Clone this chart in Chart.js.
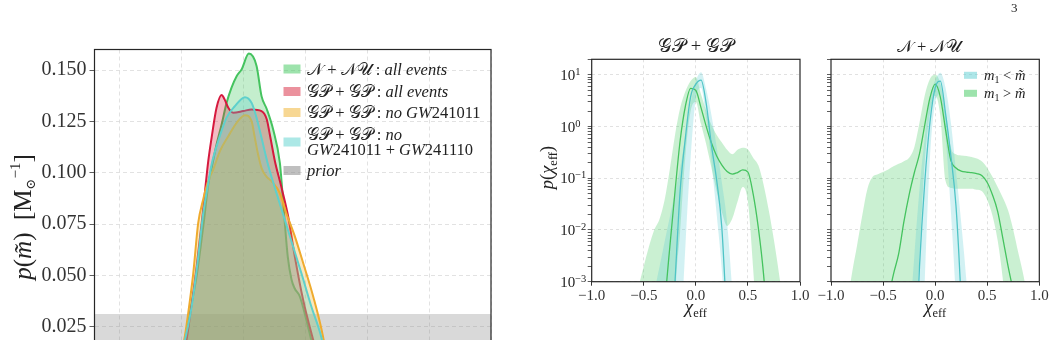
<!DOCTYPE html>
<html>
<head>
<meta charset="utf-8">
<title>m-tilde and chi_eff posteriors</title>
<script src="https://cdn.jsdelivr.net/npm/chart.js@4.4.1/dist/chart.umd.min.js"></script>
<style>
    html, body { margin: 0; padding: 0; background: #fff; width: 1054px; height: 340px; overflow: hidden; }
    .panel { position: absolute; top: 0; }
    #pageNum { position: absolute; left: 1011px; top: 0; font: 13px 'Liberation Serif', serif; color: #222; }
</style>
</head>
<body>
<div class="panel" style="left:0"><canvas id="massChart" width="520" height="470"></canvas></div>
<div class="panel" style="left:520px"><canvas id="gpChart" width="300" height="340"></canvas></div>
<div class="panel" style="left:810px"><canvas id="nuChart" width="244" height="340"></canvas></div>
<div id="pageNum">3</div>
<script>
// ---- left panel: p(m~) ----
const nuAllM = [24.6, 25.3, 25.8, 26.25, 26.8, 27.2, 27.45, 27.85, 28.26, 28.66, 29.06, 29.47, 29.87, 30.46, 31.08, 31.48, 31.9, 32.42, 32.96, 33.15, 33.36, 33.6, 33.9, 34.15, 34.57, 35.1, 35.5, 36.3];
const nuAllP = [0.0, 0.0187, 0.035, 0.05, 0.075, 0.095, 0.1023, 0.1137, 0.1235, 0.134, 0.1414, 0.147, 0.1503, 0.158, 0.152, 0.1373, 0.131, 0.121, 0.1048, 0.0917, 0.0755, 0.059, 0.048, 0.0437, 0.0397, 0.0283, 0.0185, 0.0];
const gpAllM = [24.8, 25.43, 25.7, 26.24, 26.65, 26.97, 27.18, 27.45, 27.85, 28.26, 28.5, 28.8, 29.19, 30.0, 30.68, 31.48, 31.9, 32.15, 32.56, 33.1, 33.63, 34.17, 34.84, 35.65, 36.5];
const gpAllP = [0.0, 0.0185, 0.0299, 0.0543, 0.0755, 0.094, 0.1056, 0.117, 0.1316, 0.1378, 0.1357, 0.1316, 0.1292, 0.130, 0.1308, 0.130, 0.126, 0.1186, 0.1056, 0.0926, 0.0787, 0.059, 0.038, 0.0185, 0.0];
const gpNo1M = [24.6, 25.24, 25.56, 25.97, 26.37, 26.77, 27.18, 27.58, 28.12, 28.8, 29.47, 30.14, 30.68, 30.94, 31.2, 31.5, 31.9, 32.3, 32.96, 33.5, 34.17, 34.84, 35.65, 36.45, 37.0];
const gpNo1P = [0.0, 0.0185, 0.0315, 0.051, 0.0755, 0.087, 0.096, 0.1015, 0.1105, 0.1178, 0.1243, 0.128, 0.1251, 0.117, 0.109, 0.102, 0.098, 0.0958, 0.090, 0.080, 0.069, 0.056, 0.0397, 0.02, 0.0];
const gpNo2M = [24.6, 25.3, 25.84, 26.37, 26.77, 27.18, 27.45, 27.98, 28.66, 29.33, 30.14, 30.68, 31.08, 31.48, 32.0, 32.56, 33.36, 34.03, 34.7, 35.5, 36.3, 37.0];
const gpNo2P = [0.0, 0.0185, 0.0348, 0.059, 0.08, 0.095, 0.104, 0.1153, 0.1268, 0.1324, 0.1368, 0.134, 0.1268, 0.117, 0.104, 0.0926, 0.077, 0.064, 0.051, 0.0348, 0.02, 0.0];
const priorM = [18, 50];
const priorP = [0.0312, 0.0312];
const massTicks = [20, 25, 30, 35, 40, 45, 50];
const densTicks = [0, 0.025, 0.05, 0.075, 0.1, 0.125, 0.15];

// ---- right panels: p(chi_eff) ----
const chiGrid = [-0.9, -0.85, -0.8, -0.75, -0.7, -0.65, -0.6, -0.55, -0.5, -0.45, -0.4, -0.35, -0.3, -0.25, -0.2, -0.15, -0.1, -0.05, 0, 0.05, 0.1, 0.15, 0.2, 0.25, 0.3, 0.35, 0.4, 0.45, 0.5, 0.55, 0.6, 0.65, 0.7, 0.75, 0.8, 0.85, 0.9];
const chiTicks = [-1, -0.5, 0, 0.5, 1];
const decadeTicks = [1e-3, 1e-2, 1e-1, 1, 10];
const decadeExp = ['\u22123', '\u22122', '\u22121', '0', '1'];

// GP+GP, m1 < m~ (cyan)
const gpLowMed = [1e-8, 1e-8, 1e-8, 1e-8, 1e-8, 1e-8, 1e-8, 1e-8, 1e-8, 1e-8, 1e-8, 1e-8, 3.2e-7, 1.6e-5, 1.0e-3, 6.0e-2, 0.62, 3.8, 6.6, 7.9, 2.75, 0.43, 9.1e-2, 1.07e-2, 1.26e-4, 1e-6, 1e-8, 1e-8, 1e-8, 1e-8, 1e-8, 1e-8, 1e-8, 1e-8, 1e-8, 1e-8, 1e-8];
const gpLowUp = [1e-8, 1e-8, 1e-8, 1e-8, 1e-8, 1e-8, 1e-8, 1e-5, 6.3e-5, 2.0e-4, 6.3e-4, 1.9e-3, 5.9e-3, 1.78e-2, 5.4e-2, 0.166, 0.63, 2.8, 7.6, 11.2, 5.2, 1.66, 0.4, 8.3e-2, 1.4e-2, 6.3e-4, 1.6e-5, 1e-8, 1e-8, 1e-8, 1e-8, 1e-8, 1e-8, 1e-8, 1e-8, 1e-8, 1e-8];
const gpLowLo = [1e-8, 1e-8, 1e-8, 1e-8, 1e-8, 1e-8, 1e-8, 1e-8, 1e-8, 1e-8, 1e-8, 1e-8, 1e-8, 1e-8, 1e-8, 3.2e-5, 5.0e-3, 0.25, 3.55, 5.6, 1.41, 0.2, 2.0e-2, 1.6e-3, 3.2e-5, 1e-8, 1e-8, 1e-8, 1e-8, 1e-8, 1e-8, 1e-8, 1e-8, 1e-8, 1e-8, 1e-8, 1e-8];
// GP+GP, m1 > m~ (green)
const gpHighMed = [1e-8, 1e-8, 1e-8, 1e-8, 1e-8, 1e-8, 1e-8, 1e-8, 1e-8, 1e-8, 5.0e-7, 1.6e-5, 3.5e-4, 4.7e-3, 5.6e-2, 0.55, 2.5, 5.5, 5.0, 2.3, 1.0, 0.48, 0.27, 0.18, 0.135, 0.12, 0.129, 0.145, 0.132, 5.0e-2, 1.1e-2, 1.4e-3, 6.3e-5, 1e-6, 1e-8, 1e-8, 1e-8];
const gpHighUp = [1e-8, 1e-8, 1e-7, 1e-6, 1e-5, 6.3e-5, 2.5e-4, 7.9e-4, 2.0e-3, 4.8e-3, 1.0e-2, 1.6e-2, 3.8e-2, 0.15, 0.69, 2.3, 4.8, 7.6, 9.1, 4.2, 2.0, 1.07, 0.69, 0.49, 0.355, 0.29, 0.355, 0.39, 0.36, 0.25, 0.178, 7.6e-2, 2.4e-2, 6.3e-3, 1.35e-3, 2.5e-4, 3.2e-5];
const gpHighLo = [1e-8, 1e-8, 1e-8, 1e-8, 1e-8, 1e-8, 1e-8, 1e-8, 1e-8, 1e-8, 1e-8, 1e-8, 1e-8, 1e-8, 3.2e-4, 1.0e-2, 0.28, 2.0, 3.0, 1.12, 0.45, 0.158, 5.6e-2, 2.2e-2, 1.2e-2, 1.66e-2, 3.5e-2, 6.8e-2, 3.5e-2, 1.8e-3, 3.2e-5, 1e-8, 1e-8, 1e-8, 1e-8, 1e-8, 1e-8];

// N+NU, m1 < m~ (cyan)
const nuLowMed = [1e-8, 1e-8, 1e-8, 1e-8, 1e-8, 1e-8, 1e-8, 1e-8, 1e-8, 1e-8, 1e-8, 1e-8, 1e-8, 1e-7, 1e-5, 2.0e-3, 8.3e-2, 1.2, 5.6, 7.6, 1.78, 0.28, 2.95e-2, 4.0e-4, 1e-6, 1e-8, 1e-8, 1e-8, 1e-8, 1e-8, 1e-8, 1e-8, 1e-8, 1e-8, 1e-8, 1e-8, 1e-8];
const nuLowUp = [1e-8, 1e-8, 1e-8, 1e-8, 1e-8, 1e-8, 1e-8, 1e-8, 1e-8, 1e-8, 1e-8, 1e-8, 1e-6, 1e-4, 3.2e-3, 6.3e-2, 0.63, 3.55, 7.9, 11.0, 5.6, 1.26, 0.14, 1.4e-2, 1.05e-3, 3.2e-5, 1e-6, 1e-8, 1e-8, 1e-8, 1e-8, 1e-8, 1e-8, 1e-8, 1e-8, 1e-8, 1e-8];
const nuLowLo = [1e-8, 1e-8, 1e-8, 1e-8, 1e-8, 1e-8, 1e-8, 1e-8, 1e-8, 1e-8, 1e-8, 1e-8, 1e-8, 1e-8, 1e-8, 1e-6, 1.0e-3, 0.25, 2.8, 4.2, 0.63, 2.5e-2, 4.0e-4, 1e-6, 1e-8, 1e-8, 1e-8, 1e-8, 1e-8, 1e-8, 1e-8, 1e-8, 1e-8, 1e-8, 1e-8, 1e-8, 1e-8];
// N+NU, m1 > m~ (green)
const nuHighMed = [1e-8, 1e-8, 1e-8, 1e-8, 1e-8, 1e-8, 3.2e-7, 1e-5, 1e-4, 4.5e-4, 1.4e-3, 3.5e-3, 1.45e-2, 4.8e-2, 0.128, 0.30, 1.07, 3.6, 6.6, 3.7, 0.87, 0.224, 0.158, 0.138, 0.132, 0.129, 0.123, 0.112, 8.3e-2, 4.8e-2, 2.3e-2, 6.9e-3, 2.0e-3, 6.3e-4, 1.26e-4, 1e-5, 3.2e-7];
const nuHighUp = [6.3e-5, 3.2e-4, 1.4e-3, 5.0e-3, 1.9e-2, 6.3e-2, 0.107, 0.12, 0.132, 0.148, 0.17, 0.19, 0.214, 0.25, 0.4, 1.2, 4.0, 8.3, 10.0, 6.8, 1.86, 0.4, 0.29, 0.275, 0.27, 0.257, 0.24, 0.21, 0.158, 0.107, 6.8e-2, 4.2e-2, 2.4e-2, 1.0e-2, 3.5e-3, 1.26e-3, 3.2e-4];
const nuHighLo = [1e-8, 1e-8, 1e-8, 1e-8, 1e-8, 1e-8, 1e-8, 1e-8, 1e-8, 1e-8, 1e-8, 1e-8, 1e-8, 1e-8, 3.2e-5, 3.2e-3, 0.2, 1.78, 4.0, 1.58, 8.9e-2, 6.5e-2, 6.3e-2, 6.3e-2, 6.3e-2, 6.3e-2, 6.0e-2, 5.6e-2, 3.8e-2, 1.9e-2, 6.3e-3, 1.1e-3, 1e-4, 1e-8, 1e-8, 1e-8, 1e-8];

const serif = "'Liberation Serif', 'DejaVu Serif', serif";
Chart.defaults.font.family = serif;
Chart.defaults.color = '#333';

const gridCol = '#dadada';
const clear = 'rgba(0,0,0,0)';
const rm = s => `${s}px ${serif}`;
const it = s => `italic ${s}px ${serif}`;

const greenLine = '#45c35f', greenBand = 'rgba(60,200,90,0.27)', greenBox = 'rgba(60,200,90,0.5)';
const cyanLine = '#4fc4c6', cyanBand = 'rgba(90,205,210,0.27)', cyanBox = 'rgba(90,205,210,0.5)';

function pts(xs, ys) {
    return xs.map((x, i) => ({ x: x, y: ys[i] }));
}

// draw a row of text pieces [text, font, dy]
function drawRuns(ctx, runs, x, y, align) {
    let w = 0;
    runs.forEach(r => { ctx.font = r[1]; w += ctx.measureText(r[0]).width; });
    let cx = align === 'center' ? x - w / 2 : (align === 'right' ? x - w : x);
    ctx.textAlign = 'left';
    runs.forEach(r => {
        ctx.font = r[1];
        ctx.fillText(r[0], cx, y + (r[2] || 0));
        cx += ctx.measureText(r[0]).width;
    });
}

function frame(ctx, a) {
    ctx.save();
    ctx.strokeStyle = '#262626';
    ctx.lineWidth = 1.2;
    ctx.strokeRect(a.left, a.top, a.right - a.left, a.bottom - a.top);
    ctx.restore();
}

// ---------- left chart ----------
const massSeries = [
    { m: nuAllM, p: nuAllP, line: '#45c35f', fill: 'rgba(60,200,90,0.3)', order: 3 },
    { m: gpAllM, p: gpAllP, line: '#d6193e', fill: 'rgba(215,35,60,0.3)', order: 2 },
    { m: gpNo1M, p: gpNo1P, line: '#efab2e', fill: 'rgba(240,175,40,0.3)', order: 1 },
    { m: gpNo2M, p: gpNo2P, line: '#5fd0cc', fill: 'rgba(90,210,205,0.3)', order: 0 }
];

const lf = 16.5;
const massLegend = [
    { color: 'rgba(60,200,90,0.5)', y: 69, lines: [[['\u{1D4A9} + \u{1D4A9}\u{1D4B0} : ', rm(lf)], ['all events', it(lf)]]] },
    { color: 'rgba(215,35,60,0.5)', y: 91.5, lines: [[['\u{1D4A2}\u{1D4AB} + \u{1D4A2}\u{1D4AB} : ', rm(lf)], ['all events', it(lf)]]] },
    { color: 'rgba(240,175,40,0.5)', y: 112.5, lines: [[['\u{1D4A2}\u{1D4AB} + \u{1D4A2}\u{1D4AB} : ', rm(lf)], ['no GW', it(lf)], ['241011', rm(lf)]]] },
    { color: 'rgba(90,210,205,0.5)', y: 142, lines: [[['\u{1D4A2}\u{1D4AB} + \u{1D4A2}\u{1D4AB} : ', rm(lf)], ['no', it(lf)]],
                                                    [['GW', it(lf)], ['241011 + ', rm(lf)], ['GW', it(lf)], ['241110', rm(lf)]]] },
    { color: 'rgba(128,128,128,0.5)', y: 170.5, lines: [[['prior', it(lf)]]] }
];

const massDecor = {
    id: 'massDecor',
    afterDraw(chart) {
        const ctx = chart.ctx;
        frame(ctx, chart.chartArea);
        ctx.save();
        ctx.fillStyle = '#222';
        ctx.textBaseline = 'alphabetic';
        massLegend.forEach(item => {
            ctx.fillStyle = item.color;
            ctx.fillRect(283.5, item.y - 4.5, 17, 9);
            ctx.fillStyle = '#222';
            const n = item.lines.length;
            item.lines.forEach((runs, k) => {
                const cy = item.y + (k - (n - 1) / 2) * 15;
                drawRuns(ctx, runs, 307, cy + 5.5, 'left');
            });
        });
        // y axis title
        ctx.translate(23, 217);
        ctx.rotate(-Math.PI / 2);
        drawRuns(ctx, [['p', it(25)], ['(', rm(25)], ['m\u0303', it(25)], [')  [M', rm(25)], ['\u2299', rm(13), 4], ['\u22121', rm(15), -11], [']', rm(25)]], 0, 8, 'center');
        ctx.restore();
    }
};

new Chart(document.getElementById('massChart'), {
    type: 'line',
    data: {
        datasets: massSeries.map(s => ({
            data: pts(s.m, s.p),
            borderColor: s.line,
            backgroundColor: s.fill,
            borderWidth: 2,
            fill: 'origin',
            order: s.order
        })).concat([{
            data: pts(priorM, priorP),
            borderWidth: 0,
            borderColor: clear,
            backgroundColor: 'rgba(128,128,128,0.3)',
            fill: 'origin',
            order: 4
        }])
    },
    options: {
        responsive: false,
        animation: false,
        layout: { padding: { left: 0, top: 49.5, right: 29, bottom: 0 } },
        plugins: { legend: { display: false }, tooltip: { enabled: false } },
        elements: { point: { radius: 0 }, line: { cubicInterpolationMode: 'monotone' } },
        scales: {
            x: {
                type: 'linear', min: 18, max: 50,
                afterBuildTicks: s => { s.ticks = massTicks.map(v => ({ value: v })); },
                afterFit: s => { s.height = 92; },
                grid: { color: gridCol, lineWidth: 0.8, tickLength: 5, tickColor: '#333', tickBorderDash: [] },
                border: { display: false, dash: [4, 3] },
                ticks: { font: { size: 20 }, color: '#333' }
            },
            y: {
                type: 'linear', min: 0, max: 0.16,
                afterBuildTicks: s => { s.ticks = densTicks.map(v => ({ value: v })); },
                afterFit: s => { s.width = 94.5; },
                grid: { color: gridCol, lineWidth: 0.8, tickLength: 5, tickColor: '#333', tickBorderDash: [] },
                border: { display: false, dash: [4, 3] },
                ticks: { font: { size: 20 }, color: '#333', padding: 3, callback: v => v.toFixed(3) }
            }
        }
    },
    plugins: [massDecor]
});

// ---------- chi_eff charts ----------
function logTickList() {
    const list = [];
    decadeTicks.forEach(d => {
        for (let k = 1; k <= 9; k++) {
            if (d * k <= 20) list.push({ value: d * k, major: k === 1 });
        }
    });
    return list;
}

function bandSet(ys, color, order) {
    return {
        data: pts(chiGrid, ys),
        borderWidth: 0,
        borderColor: clear,
        backgroundColor: color || clear,
        fill: color ? '+1' : false,
        order: order
    };
}

function lineSet(ys, color, order) {
    return {
        data: pts(chiGrid, ys),
        borderWidth: 1.3,
        borderColor: color,
        fill: false,
        order: order
    };
}

function chiChart(canvasId, sets, yWidth, padRight, decor) {
    return new Chart(document.getElementById(canvasId), {
        type: 'line',
        data: { datasets: sets },
        options: {
            responsive: false,
            animation: false,
            layout: { padding: { left: 0, top: 59.3, right: padRight, bottom: 0 } },
            plugins: { legend: { display: false }, tooltip: { enabled: false } },
            elements: { point: { radius: 0 }, line: { cubicInterpolationMode: 'monotone' } },
            scales: {
                x: {
                    type: 'linear', min: -1, max: 1,
                    afterBuildTicks: s => { s.ticks = chiTicks.map(v => ({ value: v })); },
                    afterFit: s => { s.height = 58.3; },
                    grid: {
                        color: c => (c.tick && Math.abs(c.tick.value) < 1 ? gridCol : clear),
                        lineWidth: 0.8, tickLength: 4, tickWidth: 1, tickColor: '#333', tickBorderDash: []
                    },
                    border: { display: false, dash: [3, 3] },
                    ticks: {
                        autoSkip: false, maxRotation: 0, padding: 1,
                        font: { size: 15 }, color: '#333',
                        callback: v => v.toFixed(1).replace('-', '\u2212')
                    }
                },
                y: {
                    type: 'logarithmic', min: 1e-3, max: 20,
                    afterBuildTicks: s => { s.ticks = logTickList(); },
                    afterFit: s => { s.width = yWidth; },
                    grid: {
                        color: c => (c.tick && c.tick.major ? gridCol : clear),
                        lineWidth: 0.8, tickLength: 4, tickWidth: 0.8, tickColor: '#333', tickBorderDash: []
                    },
                    border: { display: false, dash: [3, 3] },
                    ticks: { autoSkip: false, callback: () => '' }
                }
            }
        },
        plugins: [decor]
    });
}

const gpDecor = {
    id: 'gpDecor',
    afterDraw(chart) {
        const ctx = chart.ctx, a = chart.chartArea;
        frame(ctx, a);
        ctx.save();
        ctx.fillStyle = '#222';
        ctx.textBaseline = 'alphabetic';
        const cx = (a.left + a.right) / 2;
        drawRuns(ctx, [['\u{1D4A2}\u{1D4AB} + \u{1D4A2}\u{1D4AB}', rm(18.5)]], cx, 52, 'center');
        drawRuns(ctx, [['\u03C7', it(19)], ['eff', rm(12.5), 4]], cx, 313, 'center');
        const ys = chart.scales.y;
        decadeTicks.forEach((v, i) => {
            const py = ys.getPixelForValue(v);
            drawRuns(ctx, [['10', rm(15)]], a.left - 16.5, py + 5, 'right');
            drawRuns(ctx, [[decadeExp[i], rm(10.5)]], a.left - 16.5, py, 'left');
        });
        ctx.translate(27, (a.top + a.bottom) / 2 - 3);
        ctx.rotate(-Math.PI / 2);
        drawRuns(ctx, [['p', it(18.5)], ['(', rm(18.5)], ['\u03C7', it(18.5)], ['eff', rm(12.5), 4], [')', rm(18.5)]], 0, 6, 'center');
        ctx.restore();
    }
};

const nuDecor = {
    id: 'nuDecor',
    afterDraw(chart) {
        const ctx = chart.ctx, a = chart.chartArea;
        frame(ctx, a);
        ctx.save();
        ctx.fillStyle = '#222';
        ctx.textBaseline = 'alphabetic';
        const cx = (a.left + a.right) / 2;
        drawRuns(ctx, [['\u{1D4A9} + \u{1D4A9}\u{1D4B0}', rm(16.5)]], cx - 6, 52, 'center');
        drawRuns(ctx, [['\u03C7', it(19)], ['eff', rm(12.5), 4]], cx, 313, 'center');
        // legend
        [[cyanBox, 75.3, ' < '], [greenBox, 93.3, ' > ']].forEach(r => {
            ctx.fillStyle = r[0];
            ctx.fillRect(154, r[1] - 3.5, 13, 7);
            ctx.fillStyle = '#222';
            drawRuns(ctx, [['m', it(14.5)], ['1', rm(10), 3], [r[2], rm(14.5)], ['m\u0303', it(14.5)]], 174, r[1] + 4.5, 'left');
        });
        ctx.restore();
    }
};

chiChart('gpChart', [
    bandSet(gpHighUp, greenBand, 5), bandSet(gpHighLo, null, 5),
    bandSet(gpLowUp, cyanBand, 4), bandSet(gpLowLo, null, 4),
    lineSet(gpHighMed, greenLine, 1), lineSet(gpLowMed, cyanLine, 0)
], 71.7, 20, gpDecor);

chiChart('nuChart', [
    bandSet(nuHighUp, greenBand, 5), bandSet(nuHighLo, null, 5),
    bandSet(nuLowUp, cyanBand, 4), bandSet(nuLowLo, null, 4),
    lineSet(nuHighMed, greenLine, 1), lineSet(nuLowMed, cyanLine, 0)
], 21, 14.7, nuDecor);
</script>
</body>
</html>
